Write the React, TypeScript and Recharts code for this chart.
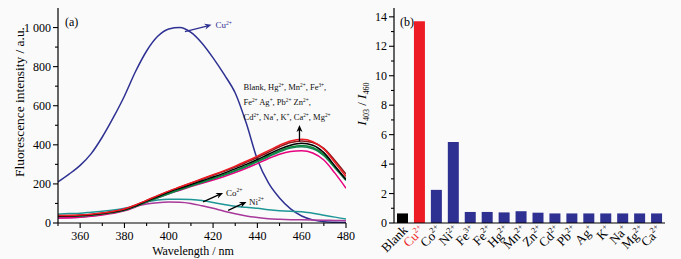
import React from 'react';
import { LineChart, Line, XAxis, YAxis, BarChart, Bar, Cell, ReferenceLine } from 'recharts';

const FONT = '"Liberation Serif", "Times New Roman", serif';

// ---------- Panel (a) data ----------
const wavelengths = [350, 355, 360, 365, 370, 375, 380, 385, 390, 395, 400, 405, 410, 415, 420, 425, 430, 435, 440, 445, 450, 455, 460, 465, 470, 475, 480];
const cuCurve = [210, 250, 295, 355, 440, 540, 650, 775, 880, 955, 993, 1000, 975, 920, 845, 760, 665, 510, 325, 205, 128, 72, 36, 16, 7, 4, 3];
const blankCurve = [35, 36, 38, 42, 48, 57, 68, 88, 112, 135, 158, 178, 197, 216, 235, 255, 277, 300, 325, 352, 378, 398, 408, 398, 360, 292, 222];
const redCurve = [38, 39, 41, 45, 51, 60, 72, 92, 116, 140, 163, 184, 205, 226, 247, 268, 291, 316, 342, 370, 398, 420, 428, 416, 378, 310, 238];
const brownCurve = [37, 38, 40, 44, 50, 59, 71, 91, 115, 139, 162, 183, 204, 224, 244, 264, 286, 310, 335, 362, 390, 412, 420, 412, 382, 320, 250];
const greenCurve = [34, 35, 37, 41, 47, 55, 66, 85, 108, 130, 152, 172, 191, 210, 229, 248, 269, 292, 317, 344, 370, 389, 397, 386, 350, 286, 224];
const darkGreenCurve = [33, 34, 36, 40, 46, 54, 65, 84, 107, 129, 150, 170, 189, 207, 226, 245, 266, 288, 313, 339, 364, 383, 390, 380, 344, 282, 218];
const pinkCurve = [25, 27, 30, 34, 41, 50, 62, 82, 106, 129, 150, 168, 186, 203, 220, 238, 258, 280, 304, 330, 352, 366, 370, 358, 322, 255, 178];
const coCurve = [45, 48, 50, 55, 60, 66, 75, 88, 108, 118, 122, 122, 120, 115, 105, 95, 86, 80, 75, 68, 63, 60, 58, 50, 40, 30, 20];
const niCurve = [25, 27, 30, 36, 45, 58, 72, 86, 97, 104, 107, 106, 100, 88, 75, 60, 47, 36, 28, 22, 19, 17, 16, 15, 14, 13, 12];

const yTicksA = [0, 100, 200, 300, 400, 500, 600, 700, 800, 900, 1000];
const xTicksA = [350, 360, 370, 380, 390, 400, 410, 420, 430, 440, 450, 460, 470, 480];

// ---------- Panel (b) data ----------
const ions = ['Blank', 'Cu', 'Co', 'Ni', 'Fe', 'Fe', 'Hg', 'Mn', 'Zn', 'Cd', 'Pb', 'Ag', 'K', 'Na', 'Mg', 'Ca'];
const ionCharges = ['', '2+', '2+', '2+', '3+', '2+', '2+', '2+', '2+', '2+', '2+', '+', '+', '+', '2+', '2+'];
const ratios = [0.65, 13.7, 2.25, 5.5, 0.75, 0.75, 0.72, 0.8, 0.7, 0.65, 0.65, 0.65, 0.65, 0.65, 0.65, 0.65];
const yTicksB = [0, 1, 2, 3, 4, 5, 6, 7, 8, 9, 10, 11, 12, 13, 14];

const lineData = wavelengths.map((w, i) => ({
  w,
  cu: cuCurve[i],
  blank: blankCurve[i],
  red: redCurve[i],
  brown: brownCurve[i],
  green: greenCurve[i],
  dgreen: darkGreenCurve[i],
  pink: pinkCurve[i],
  co: coCurve[i],
  ni: niCurve[i],
}));

const barData = ions.map((ion, i) => ({ key: ion + ionCharges[i], ion, charge: ionCharges[i], ratio: ratios[i] }));

const BLUE = '#2E3192';
const barColor = (i: number) => (i === 0 ? '#000000' : i === 1 ? '#ED1C24' : BLUE);

// rich text with ^{sup} and _{sub}
function rich(str: string, size: number) {
  const parts = str.split(/(\^\{[^}]*\}|_\{[^}]*\})/).filter((p) => p !== '');
  let offset = 0;
  return parts.map((p, k) => {
    let target = 0;
    let txt = p;
    let fs = size;
    if (p.startsWith('^{')) {
      target = -size * 0.4;
      txt = p.slice(2, -1);
      fs = size * 0.62;
    } else if (p.startsWith('_{')) {
      target = size * 0.3;
      txt = p.slice(2, -1);
      fs = size * 0.62;
    }
    const dy = target - offset;
    offset = target;
    return (
      <tspan key={k} dy={dy} fontSize={fs}>
        {txt}
      </tspan>
    );
  });
}

const arrowShape = (color: string, lines: { dx: number; dy: number; text: string; size: number }[]) => (p: any) => {
  const { x1, y1, x2, y2 } = p;
  const ang = Math.atan2(y2 - y1, x2 - x1);
  const hl = 7;
  const hw = 3;
  const bx = x2 - hl * Math.cos(ang);
  const by = y2 - hl * Math.sin(ang);
  const nx = x2 - hl * 0.7 * Math.cos(ang);
  const ny = y2 - hl * 0.7 * Math.sin(ang);
  const px = -Math.sin(ang) * hw;
  const py = Math.cos(ang) * hw;
  return (
    <g>
      <line x1={x1} y1={y1} x2={nx} y2={ny} stroke={color} strokeWidth={1.3} />
      <polygon points={`${x2},${y2} ${bx + px},${by + py} ${nx},${ny} ${bx - px},${by - py}`} fill={color} />
      {lines.map((l, k) => (
        <text key={k} x={x2 + l.dx} y={y2 + l.dy} fontSize={l.size} fontFamily={FONT} fill={color === '#000' ? '#111' : color}>
          {rich(l.text, l.size)}
        </text>
      ))}
    </g>
  );
};

function YTickA(props: any) {
  const { x, y, payload } = props;
  const v = payload.value;
  const major = v % 200 === 0;
  return (
    <g>
      <line x1={x - (major ? 5 : 3)} x2={x} y1={y} y2={y} stroke="#000" strokeWidth={1.1} />
      {major && (
        <text x={x - 7} y={y} dy={4} textAnchor="end" fontSize={12} fontFamily={FONT} fill="#000">
          {v === 1000 ? '1 000' : v}
        </text>
      )}
    </g>
  );
}

function XTickA(props: any) {
  const { x, y, payload } = props;
  const v = payload.value;
  const major = v % 20 === 0;
  return (
    <g>
      <line x1={x} x2={x} y1={y} y2={y + (major ? 5 : 3)} stroke="#000" strokeWidth={1.1} />
      {major && (
        <text x={x} y={y + 17} textAnchor="middle" fontSize={12} fontFamily={FONT} fill="#000">
          {v}
        </text>
      )}
    </g>
  );
}

function YTickB(props: any) {
  const { x, y, payload } = props;
  const v = payload.value;
  const major = v % 2 === 0;
  return (
    <g>
      <line x1={x - (major ? 5 : 3)} x2={x} y1={y} y2={y} stroke="#000" strokeWidth={1.1} />
      {major && (
        <text x={x - 7} y={y} dy={4} textAnchor="end" fontSize={12} fontFamily={FONT} fill="#000">
          {v}
        </text>
      )}
    </g>
  );
}

function CatTick(props: any) {
  const { x, y, payload } = props;
  const idx = payload.index ?? barData.findIndex((d) => d.key === payload.value);
  const d = barData[idx];
  if (!d) return null;
  const ax = x + 6;
  const ay = y + 8;
  const label = d.charge ? `${d.ion}^{${d.charge}}` : d.ion;
  return (
    <text
      x={ax}
      y={ay}
      textAnchor="end"
      transform={`rotate(-45, ${ax}, ${ay})`}
      fontSize={13}
      fontFamily={FONT}
      fill={idx === 1 ? '#ED1C24' : '#000'}
    >
      {rich(label, 13)}
    </text>
  );
}

export default function App() {
  return (
    <div style={{ position: 'absolute', left: 0, top: 0, width: 681, height: 259, background: '#fafafa', overflow: 'hidden' }}>
      {/* Panel (a) */}
      <div style={{ position: 'absolute', left: 0, top: 0 }}>
        <LineChart width={372} height={259} data={lineData} margin={{ top: 8, right: 26, bottom: 0, left: 0 }}>
          <XAxis
            dataKey="w"
            type="number"
            domain={[350, 480]}
            ticks={xTicksA}
            interval={0}
            allowDataOverflow
            height={36}
            tickSize={0}
            tickMargin={0}
            tickLine={false}
            tick={<XTickA />}
            axisLine={{ stroke: '#000', strokeWidth: 1.2 }}
          />
          <XAxis
            xAxisId="top"
            orientation="top"
            dataKey="w"
            type="number"
            domain={[350, 480]}
            height={0}
            tick={false}
            tickLine={false}
            axisLine={{ stroke: '#000', strokeWidth: 1.2 }}
          />
          <YAxis
            type="number"
            domain={[0, 1100]}
            ticks={yTicksA}
            interval={0}
            allowDataOverflow
            width={58}
            tickSize={0}
            tickMargin={0}
            tickLine={false}
            tick={<YTickA />}
            axisLine={{ stroke: '#000', strokeWidth: 1.2 }}
          />
          <YAxis
            yAxisId="right"
            orientation="right"
            type="number"
            domain={[0, 1100]}
            width={0}
            tick={false}
            tickLine={false}
            axisLine={{ stroke: '#000', strokeWidth: 1.2 }}
          />
          <Line dataKey="cu" type="monotone" stroke={BLUE} strokeWidth={1.5} dot={false} isAnimationActive={false} />
          <Line dataKey="co" type="monotone" stroke="#1E9696" strokeWidth={1.5} dot={false} isAnimationActive={false} />
          <Line dataKey="ni" type="monotone" stroke="#A8389A" strokeWidth={1.5} dot={false} isAnimationActive={false} />
          <Line dataKey="pink" type="monotone" stroke="#E6007E" strokeWidth={1.5} dot={false} isAnimationActive={false} />
          <Line dataKey="dgreen" type="monotone" stroke="#1B7F5B" strokeWidth={1.5} dot={false} isAnimationActive={false} />
          <Line dataKey="green" type="monotone" stroke="#0A8A3A" strokeWidth={1.5} dot={false} isAnimationActive={false} />
          <Line dataKey="brown" type="monotone" stroke="#8B1A1A" strokeWidth={1.5} dot={false} isAnimationActive={false} />
          <Line dataKey="blank" type="monotone" stroke="#000000" strokeWidth={1.5} dot={false} isAnimationActive={false} />
          <Line dataKey="red" type="monotone" stroke="#ED1C24" strokeWidth={1.5} dot={false} isAnimationActive={false} />
          <ReferenceLine
            segment={[{ x: 407.3, y: 979 }, { x: 419.3, y: 1014 }]}
            shape={arrowShape(BLUE, [{ dx: 4, dy: 3.5, text: 'Cu^{2+}', size: 9 }])}
          />
          <ReferenceLine
            segment={[{ x: 459, y: 417 }, { x: 459, y: 501 }]}
            shape={arrowShape('#000', [
              { dx: -56, dy: -35, text: 'Blank, Hg^{2+}, Mn^{2+}, Fe^{3+},', size: 8.5 },
              { dx: -56, dy: -20, text: 'Fe^{2+} Ag^{+}, Pb^{2+} Zn^{2+},', size: 8.5 },
              { dx: -56, dy: -5, text: 'Cd^{2+}, Na^{+}, K^{+}, Ca^{2+}, Mg^{2+}', size: 8.5 },
            ])}
          />
          <ReferenceLine
            segment={[{ x: 415.5, y: 108 }, { x: 424.5, y: 154 }]}
            shape={arrowShape('#000', [{ dx: 3, dy: 3, text: 'Co^{2+}', size: 9 }])}
          />
          <ReferenceLine
            segment={[{ x: 426.8, y: 65 }, { x: 435.1, y: 108 }]}
            shape={arrowShape('#000', [{ dx: 2.5, dy: 3, text: 'Ni^{2+}', size: 9 }])}
          />
        </LineChart>
        <svg style={{ position: 'absolute', left: 0, top: 0, pointerEvents: 'none' }} width={350} height={259}>
          <text x={65} y={26} fontSize={12} fontFamily={FONT} fill="#000">(a)</text>
          <text x={193} y={255} textAnchor="middle" fontSize={12} fontFamily={FONT} fill="#000">Wavelength / nm</text>
          <text
            x={24}
            y={102}
            textAnchor="middle"
            transform="rotate(-90, 24, 102)"
            fontSize={13.4}
            fontFamily={FONT}
            fill="#000"
          >
            Fluorescence intensity / a.u.
          </text>
        </svg>
      </div>

      {/* Panel (b) */}
      <div style={{ position: 'absolute', left: 350, top: 0 }}>
        <BarChart width={331} height={259} data={barData} margin={{ top: 8, right: 16, bottom: 0, left: 0 }}>
          <XAxis
            dataKey="key"
            type="category"
            interval={0}
            height={36}
            tickSize={0}
            tickMargin={0}
            tickLine={false}
            tick={<CatTick />}
            axisLine={{ stroke: '#000', strokeWidth: 1.2 }}
          />
          <XAxis
            xAxisId="top"
            orientation="top"
            dataKey="key"
            type="category"
            height={0}
            tick={false}
            tickLine={false}
            axisLine={{ stroke: '#000', strokeWidth: 1.2 }}
          />
          <YAxis
            type="number"
            domain={[0, 14.6]}
            ticks={yTicksB}
            interval={0}
            allowDataOverflow
            width={44}
            tickSize={0}
            tickMargin={0}
            tickLine={false}
            tick={<YTickB />}
            axisLine={{ stroke: '#000', strokeWidth: 1.2 }}
          />
          <YAxis
            yAxisId="right"
            orientation="right"
            type="number"
            domain={[0, 14.6]}
            width={0}
            tick={false}
            tickLine={false}
            axisLine={{ stroke: '#000', strokeWidth: 1.2 }}
          />
          <Bar dataKey="ratio" barSize={11} isAnimationActive={false}>
            {barData.map((d, i) => (
              <Cell key={d.key} fill={barColor(i)} />
            ))}
          </Bar>
        </BarChart>
        <svg style={{ position: 'absolute', left: 0, top: 0, pointerEvents: 'none' }} width={331} height={259}>
          <text x={50} y={26} fontSize={12} fontFamily={FONT} fill="#000">(b)</text>
          <text
            x={16}
            y={104}
            textAnchor="middle"
            transform="rotate(-90, 16, 104)"
            fontSize={13}
            fontFamily={FONT}
            fill="#000"
          >
            <tspan fontStyle="italic">I</tspan>
            <tspan dy={3} fontSize={8}>403</tspan>
            <tspan dy={-3}> / </tspan>
            <tspan fontStyle="italic">I</tspan>
            <tspan dy={3} fontSize={8}>460</tspan>
          </text>
        </svg>
      </div>
    </div>
  );
}
